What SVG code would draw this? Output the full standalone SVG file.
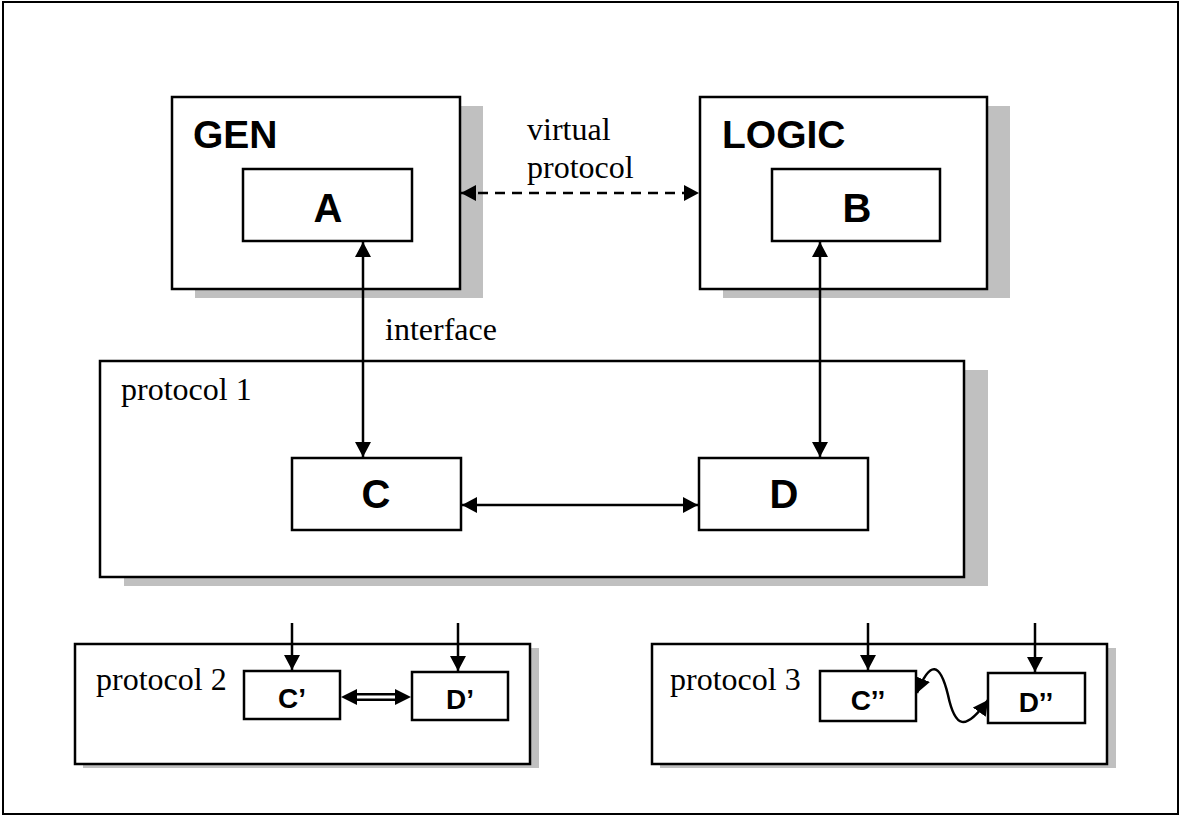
<svg xmlns="http://www.w3.org/2000/svg" width="1182" height="818" viewBox="0 0 1182 818">
<style>
.box{fill:#fff;stroke:#000;stroke-width:2.5}
.shadow{fill:#c0c0c0;stroke:none}
.inner{fill:#fff;stroke:#000;stroke-width:2.5}
.lbl{font-family:"Liberation Sans",Arial,sans-serif;font-weight:bold;fill:#000}
.txt{font-family:"Liberation Serif","Times New Roman",serif;fill:#000}
.conn{fill:none;stroke:#000;stroke-width:2.5}
</style>
<defs>
<marker id="ah" markerUnits="userSpaceOnUse" markerWidth="17" markerHeight="18" refX="15" refY="8" orient="auto-start-reverse">
<path d="M0,0 L15,8 L0,16 Z" fill="#000"/>
</marker>
</defs>
<rect x="0" y="0" width="1182" height="818" fill="#fff"/>
<rect x="3" y="2" width="1175" height="812" fill="none" stroke="#000" stroke-width="2"/>

<g id="gen">
<rect class="shadow" x="195" y="106" width="288" height="192"/>
<rect class="box" x="172" y="97" width="288" height="192"/>
<text class="lbl" x="193" y="148" font-size="39">GEN</text>
</g>
<g id="a">
<rect class="inner" x="243" y="169" width="169" height="72"/>
<text class="lbl" x="328" y="222" font-size="40" text-anchor="middle">A</text>
</g>
<g id="logic">
<rect class="shadow" x="723" y="106" width="287" height="192"/>
<rect class="box" x="700" y="97" width="287" height="192"/>
<text class="lbl" x="722" y="148" font-size="39">LOGIC</text>
</g>
<g id="b">
<rect class="inner" x="772" y="169" width="168" height="72"/>
<text class="lbl" x="857" y="222" font-size="40" text-anchor="middle">B</text>
</g>
<g id="protocol1">
<rect class="shadow" x="124" y="370" width="864" height="216"/>
<rect class="box" x="100" y="361" width="864" height="216"/>
<text class="txt" x="121" y="400" font-size="32">protocol 1</text>
</g>
<g id="c">
<rect class="inner" x="292" y="458" width="169" height="72"/>
<text class="lbl" x="376" y="508" font-size="40" text-anchor="middle">C</text>
</g>
<g id="d">
<rect class="inner" x="699" y="458" width="169" height="72"/>
<text class="lbl" x="784" y="508" font-size="40" text-anchor="middle">D</text>
</g>
<g id="protocol2">
<rect class="shadow" x="83" y="648" width="456" height="120"/>
<rect class="box" x="75" y="644" width="455" height="120"/>
<text class="txt" x="96" y="690" font-size="32">protocol 2</text>
</g>
<g id="c1">
<rect class="inner" x="244" y="671" width="96" height="48"/>
<text class="lbl" x="292" y="708" font-size="28" text-anchor="middle">C’</text>
</g>
<g id="d1">
<rect class="inner" x="412" y="672" width="96" height="48"/>
<text class="lbl" x="460" y="709" font-size="28" text-anchor="middle">D’</text>
</g>
<g id="protocol3">
<rect class="shadow" x="660" y="648" width="456" height="120"/>
<rect class="box" x="652" y="644" width="455" height="120"/>
<text class="txt" x="670" y="690" font-size="32">protocol 3</text>
</g>
<g id="c2">
<rect class="inner" x="820" y="671" width="96" height="50"/>
<text class="lbl" x="868" y="710" font-size="28" text-anchor="middle">C’’</text>
</g>
<g id="d2">
<rect class="inner" x="988" y="673" width="97" height="50"/>
<text class="lbl" x="1036" y="712" font-size="28" text-anchor="middle">D’’</text>
</g>

<g id="labels">
<text class="txt" x="527" y="140" font-size="32">virtual</text>
<text class="txt" x="527" y="178" font-size="32">protocol</text>
<text class="txt" x="385" y="340" font-size="32">interface</text>
</g>

<g id="connectors">
<line class="conn" x1="461" y1="193" x2="699" y2="193" stroke-dasharray="10,7" marker-start="url(#ah)" marker-end="url(#ah)"/>
<line class="conn" x1="363" y1="242" x2="363" y2="457" marker-start="url(#ah)" marker-end="url(#ah)"/>
<line class="conn" x1="820" y1="242" x2="820" y2="457" marker-start="url(#ah)" marker-end="url(#ah)"/>
<line class="conn" x1="462" y1="505" x2="698" y2="505" marker-start="url(#ah)" marker-end="url(#ah)"/>
<line class="conn" x1="292" y1="623" x2="292" y2="670" marker-end="url(#ah)"/>
<line class="conn" x1="458" y1="623" x2="458" y2="671" marker-end="url(#ah)"/>
<line class="conn" x1="868" y1="623" x2="868" y2="670" marker-end="url(#ah)"/>
<line class="conn" x1="1035" y1="623" x2="1035" y2="672" marker-end="url(#ah)"/>
<g id="double-arrow">
<line x1="354" y1="697" x2="398" y2="697" stroke="#000" stroke-width="8"/>
<line x1="352" y1="697" x2="400" y2="697" stroke="#fff" stroke-width="3"/>
<path d="M341,697 L357,689 L357,705 Z" fill="#000"/>
<path d="M411,697 L395,689 L395,705 Z" fill="#000"/>
</g>
<path class="conn" d="M917,693 C930,660 940,662 948,695 C955,728 965,732 988,700" marker-start="url(#ah)" marker-end="url(#ah)"/>
</g>
</svg>
